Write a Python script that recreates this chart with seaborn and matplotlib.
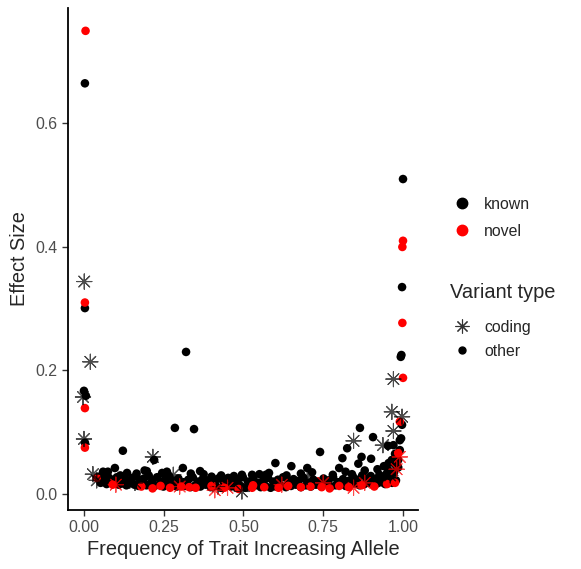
import matplotlib
matplotlib.use("Agg")
import matplotlib.pyplot as plt
from matplotlib.lines import Line2D
import seaborn as sns
import pandas as pd

# ── data (frequency, effect size) ──
known_other_x = [0.003, 0.003, 0.006, 0.000, 0.003, 0.32, 0.285, 0.345, 0.122, 0.220,
                 0.097, 0.060, 0.197, 0.310, 0.364, 0.400, 0.600, 0.650, 0.700, 0.740,
                 0.570, 0.495, 0.527, 0.800, 0.810, 0.825, 0.865, 0.860, 0.870, 0.900,
                 0.906, 0.953, 0.970, 0.990, 0.994, 0.997, 0.990, 1.000, 0.997, 0.995,
                 0.993, 0.985, 0.975]
known_other_y = [0.665, 0.301, 0.159, 0.167, 0.083, 0.230, 0.107, 0.105, 0.070, 0.055,
                 0.042, 0.036, 0.037, 0.042, 0.037, 0.028, 0.050, 0.045, 0.042, 0.068,
                 0.031, 0.031, 0.031, 0.042, 0.058, 0.074, 0.107, 0.049, 0.060, 0.057,
                 0.092, 0.078, 0.079, 0.087, 0.090, 0.112, 0.071, 0.510, 0.335, 0.225,
                 0.222, 0.055, 0.065]

band_top_x = [0.045, 0.058, 0.066, 0.079, 0.088, 0.103, 0.114, 0.127, 0.138, 0.151,
              0.163, 0.176, 0.188, 0.203, 0.214, 0.229, 0.241, 0.255, 0.268, 0.283,
              0.296, 0.312, 0.327, 0.341, 0.358, 0.372, 0.389, 0.405, 0.421, 0.437,
              0.452, 0.468, 0.483, 0.498, 0.514, 0.531, 0.546, 0.562, 0.577, 0.593,
              0.608, 0.624, 0.641, 0.657, 0.672, 0.688, 0.703, 0.719, 0.734, 0.751,
              0.766, 0.781, 0.797, 0.812, 0.828, 0.843, 0.857, 0.872, 0.886, 0.899,
              0.913, 0.926, 0.938, 0.949, 0.961, 0.972]
band_top_y = [0.028, 0.024, 0.031, 0.026, 0.022, 0.027, 0.030, 0.024, 0.021, 0.026,
              0.029, 0.023, 0.025, 0.030, 0.022, 0.027, 0.020, 0.024, 0.028, 0.021,
              0.025, 0.019, 0.023, 0.027, 0.020, 0.024, 0.022, 0.018, 0.025, 0.021,
              0.026, 0.019, 0.023, 0.027, 0.020, 0.024, 0.018, 0.022, 0.026, 0.020,
              0.023, 0.027, 0.019, 0.024, 0.021, 0.026, 0.018, 0.023, 0.020, 0.025,
              0.022, 0.027, 0.019, 0.024, 0.021, 0.028, 0.023, 0.030, 0.025, 0.029,
              0.024, 0.031, 0.027, 0.033, 0.029, 0.035]

band_low_x = [0.052, 0.071, 0.094, 0.109, 0.121, 0.133, 0.146, 0.158, 0.171, 0.183,
              0.196, 0.209, 0.222, 0.236, 0.249, 0.262, 0.276, 0.291, 0.304, 0.319,
              0.334, 0.349, 0.365, 0.381, 0.397, 0.413, 0.429, 0.445, 0.461, 0.476,
              0.491, 0.506, 0.522, 0.538, 0.554, 0.569, 0.585, 0.601, 0.616, 0.633,
              0.649, 0.664, 0.680, 0.696, 0.711, 0.727, 0.742, 0.758, 0.774, 0.789,
              0.805, 0.820, 0.835, 0.850, 0.864, 0.879, 0.892, 0.906, 0.919, 0.932,
              0.944, 0.955, 0.966, 0.978]
band_low_y = [0.018, 0.016, 0.019, 0.015, 0.017, 0.014, 0.018, 0.015, 0.013, 0.016,
              0.014, 0.017, 0.013, 0.015, 0.012, 0.016, 0.014, 0.012, 0.015, 0.013,
              0.011, 0.014, 0.012, 0.015, 0.011, 0.013, 0.010, 0.014, 0.012, 0.011,
              0.013, 0.010, 0.012, 0.014, 0.011, 0.013, 0.010, 0.012, 0.014, 0.011,
              0.013, 0.015, 0.011, 0.014, 0.012, 0.015, 0.013, 0.016, 0.012, 0.014,
              0.016, 0.013, 0.015, 0.017, 0.014, 0.016, 0.018, 0.015, 0.017, 0.019,
              0.016, 0.020, 0.018, 0.022]

band_extra_x = [0.075, 0.135, 0.165, 0.190, 0.245, 0.260, 0.335, 0.375, 0.430, 0.470,
                0.550, 0.580, 0.635, 0.680, 0.715, 0.780, 0.820, 0.840, 0.880, 0.920,
                0.940, 0.955, 0.965, 0.975, 0.985, 0.980, 0.955]
band_extra_y = [0.036, 0.034, 0.033, 0.038, 0.034, 0.036, 0.033, 0.032, 0.030, 0.029,
                0.032, 0.034, 0.030, 0.033, 0.035, 0.031, 0.036, 0.032, 0.038, 0.040,
                0.045, 0.050, 0.055, 0.048, 0.043, 0.060, 0.038]

novel_other_x = [0.005, 0.003, 0.003, 0.003, 1.000, 0.998, 0.998, 1.000, 0.990, 0.985,
                 0.040, 0.090, 0.180, 0.215, 0.240, 0.270, 0.305, 0.330, 0.350, 0.400,
                 0.440, 0.485, 0.527, 0.530, 0.565, 0.610, 0.640, 0.680, 0.710, 0.745,
                 0.770, 0.800, 0.830, 0.870, 0.910, 0.950, 0.975]
novel_other_y = [0.750, 0.310, 0.139, 0.075, 0.410, 0.400, 0.277, 0.188, 0.117, 0.066,
                 0.026, 0.015, 0.012, 0.009, 0.013, 0.010, 0.012, 0.011, 0.010, 0.013,
                 0.010, 0.008, 0.010, 0.014, 0.011, 0.010, 0.013, 0.011, 0.012, 0.011,
                 0.009, 0.013, 0.011, 0.014, 0.012, 0.016, 0.018]

known_coding_x = [0.001, 0.020, -0.003, 0.000, 0.028, 0.216, 0.280, 0.700, 0.845, 0.937,
                  0.970, 0.965, 0.997, 0.970, 0.040, 0.495, 0.960, 0.420, 0.160]
known_coding_y = [0.344, 0.214, 0.157, 0.089, 0.032, 0.060, 0.031, 0.028, 0.086, 0.079,
                  0.102, 0.133, 0.125, 0.186, 0.022, 0.004, 0.030, 0.012, 0.018]

novel_coding_x = [0.100, 0.300, 0.410, 0.450, 0.620, 0.750, 0.845, 0.880, 0.980, 0.990]
novel_coding_y = [0.015, 0.012, 0.006, 0.010, 0.015, 0.018, 0.010, 0.018, 0.040, 0.060]

def frame(xs, ys, status):
    return pd.DataFrame({"freq": xs, "effect": ys, "status": status})

circles = pd.concat([
    frame(known_other_x, known_other_y, "known"),
    frame(band_top_x, band_top_y, "known"),
    frame(band_low_x, band_low_y, "known"),
    frame(band_extra_x, band_extra_y, "known"),
    frame(novel_other_x, novel_other_y, "novel"),
], ignore_index=True)
stars = pd.concat([
    frame(known_coding_x, known_coding_y, "known"),
    frame(novel_coding_x, novel_coding_y, "novel"),
], ignore_index=True)

palette = {"known": "black", "novel": "#FF0000"}
ASTERISK = (8, 2, 0)

sns.set_style("white")
plt.rcParams["font.family"] = ["Liberation Sans", "DejaVu Sans"]

fig = plt.figure(figsize=(5.81, 5.69), dpi=100)
ax = fig.add_axes([68 / 581, 1 - 510 / 569, 350 / 581, 502 / 569])

sns.scatterplot(data=circles, x="freq", y="effect", hue="status", palette=palette,
                marker="o", s=38, linewidth=0, legend=False, ax=ax)
sns.scatterplot(data=stars, x="freq", y="effect", hue="status", palette=palette,
                marker=ASTERISK, s=120, linewidth=0.8, alpha=0.7, legend=False, ax=ax)

ax.set_xlim(-0.05, 1.047)
ax.set_ylim(-0.026, 0.787)
ax.set_xticks([0.0, 0.25, 0.5, 0.75, 1.0])
ax.set_xticklabels(["0.00", "0.25", "0.50", "0.75", "1.00"])
ax.set_yticks([0.0, 0.2, 0.4, 0.6])
ax.set_yticklabels(["0.0", "0.2", "0.4", "0.6"])
ax.tick_params(axis="both", bottom=True, left=True, length=4.5, width=1.0,
               color="#333333", labelcolor="#4D4D4D", labelsize=11.4, pad=3,
               direction="out")
ax.set_xlabel("Frequency of Trait Increasing Allele", fontsize=14.4, labelpad=3)
ax.set_ylabel("Effect Size", fontsize=14.4, labelpad=5)
ax.spines[["top", "right"]].set_visible(False)
for side in ["left", "bottom"]:
    ax.spines[side].set_color("black")
    ax.spines[side].set_linewidth(1.3)

# ── legends ──
status_handles = [Line2D([], [], marker="o", linestyle="", color=palette[k], markersize=7.5)
                  for k in ["known", "novel"]]
fig.legend(status_handles, ["known", "novel"], loc="upper left",
           bbox_to_anchor=(452.5 / 581, 1 - 197 / 569), frameon=False,
           borderpad=0, borderaxespad=0, fontsize=11.4, handletextpad=0.8,
           labelspacing=0.75, handlelength=1.2)

fig.text(450 / 581, 1 - 293 / 569, "Variant type", fontsize=14.4, ha="left", va="center")
type_handles = [Line2D([], [], marker=ASTERISK, linestyle="", color="#333333",
                       markersize=10, markeredgewidth=0.8),
                Line2D([], [], marker="o", linestyle="", color="black", markersize=5)]
fig.legend(type_handles, ["coding", "other"], loc="upper left",
           bbox_to_anchor=(452.5 / 581, 1 - 320 / 569), frameon=False,
           borderpad=0, borderaxespad=0, fontsize=11.4, handletextpad=0.8,
           labelspacing=0.55, handlelength=1.2)

fig.savefig("out.png", dpi=100, facecolor="white")
